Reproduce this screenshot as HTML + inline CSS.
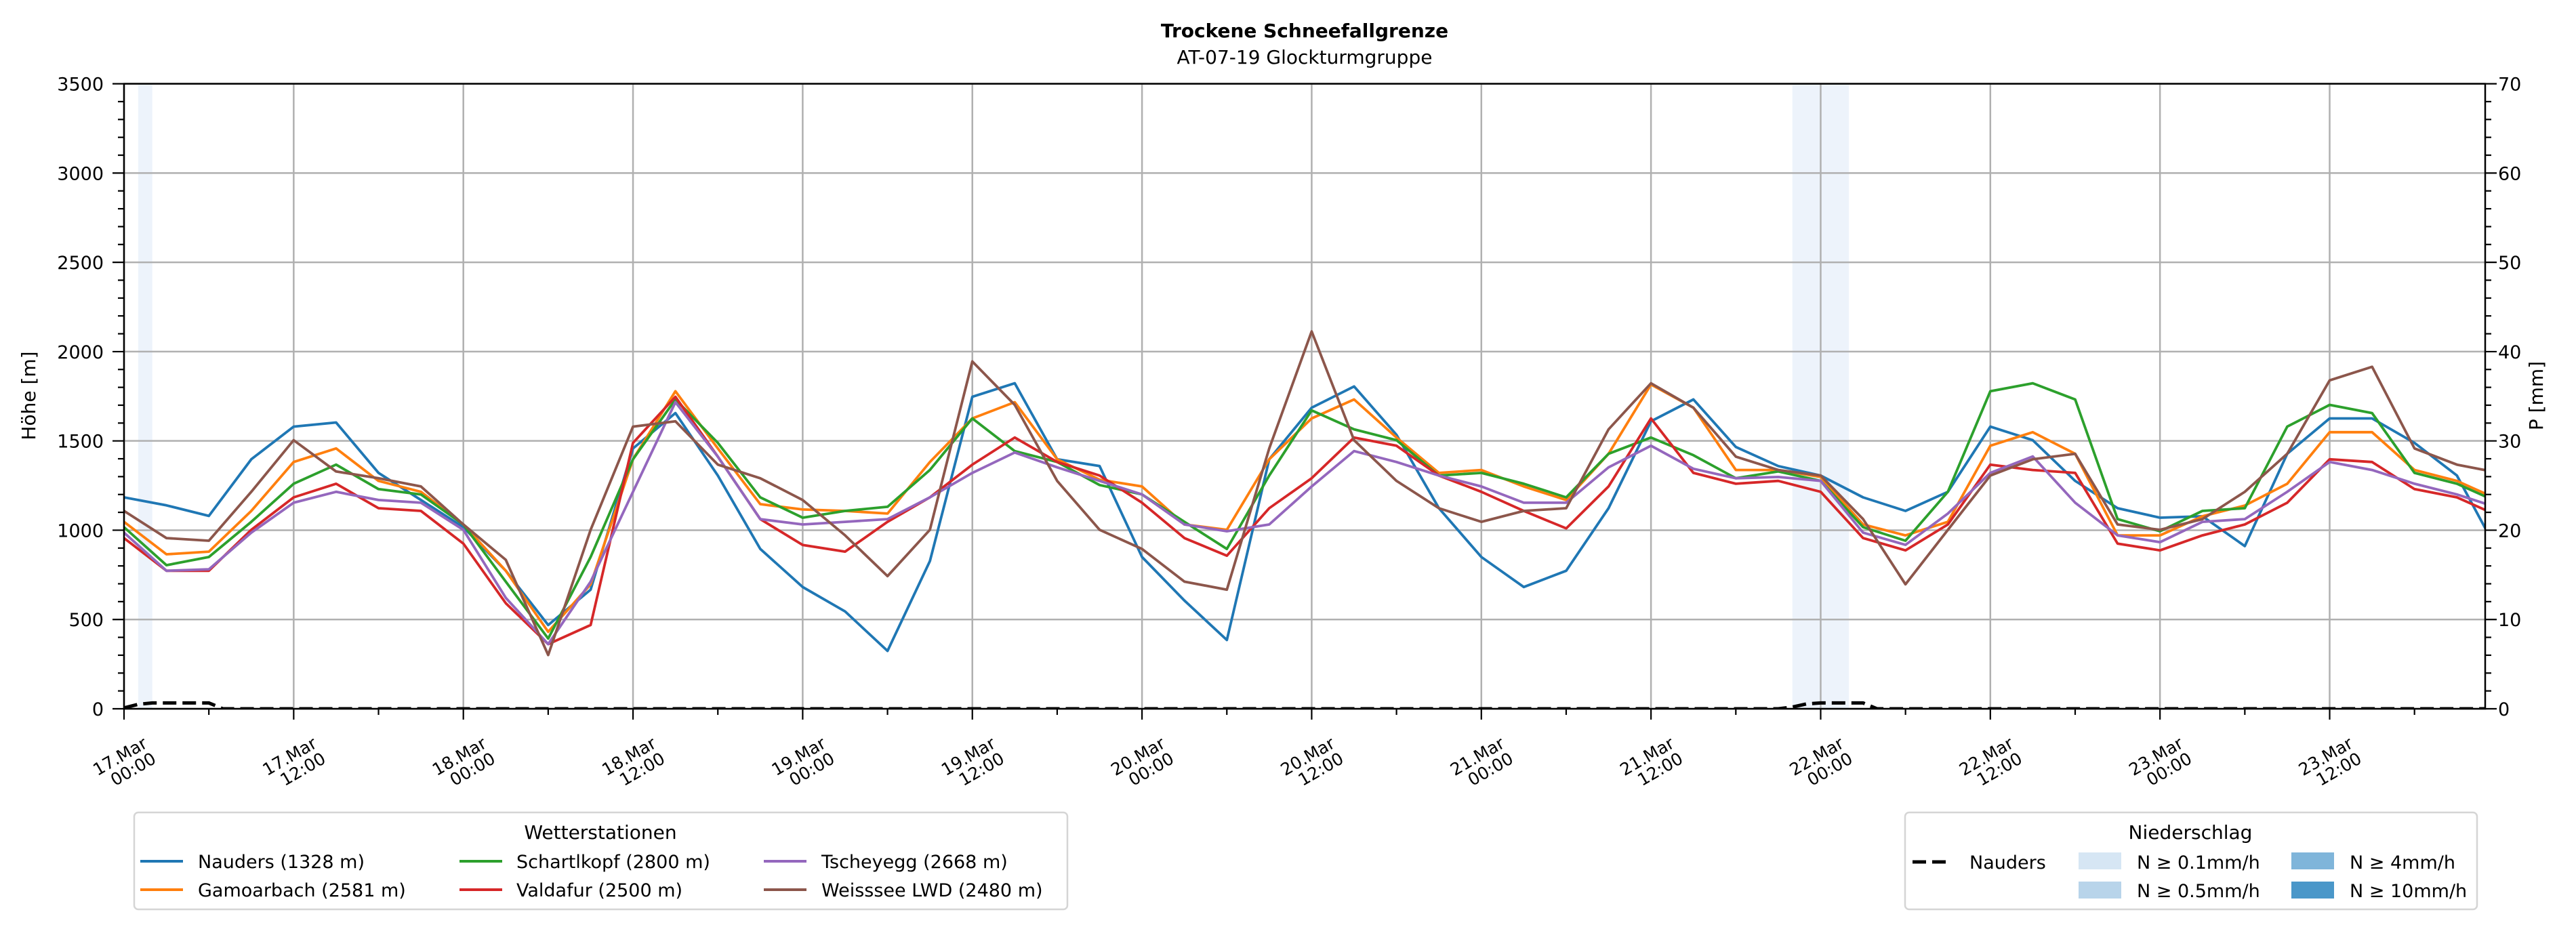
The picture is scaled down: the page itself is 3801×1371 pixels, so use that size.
<!DOCTYPE html>
<html><head><meta charset="utf-8"><style>
html,body{margin:0;padding:0;background:#fff;}
svg{display:block;font-family:"DejaVu Sans","Liberation Sans",sans-serif;}
</style></head><body>
<svg id="chart" width="3801" height="1371" viewBox="0 0 3801 1371" xmlns="http://www.w3.org/2000/svg">
<text x="1925" y="55" text-anchor="middle" font-size="28" font-weight="bold">Trockene Schneefallgrenze</text>
<text x="1925" y="94" text-anchor="middle" font-size="28">AT-07-19 Glockturmgruppe</text>
<text transform="translate(52,584) rotate(-90)" text-anchor="middle" font-size="28">Höhe [m]</text>
<text transform="translate(3752,584) rotate(-90)" text-anchor="middle" font-size="28">P [mm]</text>
<defs><clipPath id="plotclip"><rect x="183" y="123" width="3484" height="924"/></clipPath></defs>
<g id="bands" clip-path="url(#plotclip)"></g>
<g id="grid"></g>
<g id="series" clip-path="url(#plotclip)"></g>
<g id="axes"></g>

<g>
<rect x="198" y="1199" width="1377" height="143" rx="6" fill="#fff" stroke="#d5d5d5" stroke-width="2.5"/>
<text x="886" y="1238" text-anchor="middle" font-size="28">Wetterstationen</text>
<g font-size="27">
<line x1="207" y1="1271" x2="270" y2="1271" stroke="#1f77b4" stroke-width="4"/>
<text x="292" y="1281">Nauders (1328 m)</text>
<line x1="207" y1="1313" x2="270" y2="1313" stroke="#ff7f0e" stroke-width="4"/>
<text x="292" y="1323">Gamoarbach (2581 m)</text>
<line x1="678" y1="1271" x2="741" y2="1271" stroke="#2ca02c" stroke-width="4"/>
<text x="762" y="1281">Schartlkopf (2800 m)</text>
<line x1="678" y1="1313" x2="741" y2="1313" stroke="#d62728" stroke-width="4"/>
<text x="762" y="1323">Valdafur (2500 m)</text>
<line x1="1127" y1="1271" x2="1190" y2="1271" stroke="#9467bd" stroke-width="4"/>
<text x="1212" y="1281">Tscheyegg (2668 m)</text>
<line x1="1127" y1="1313" x2="1190" y2="1313" stroke="#8c564b" stroke-width="4"/>
<text x="1212" y="1323">Weisssee LWD (2480 m)</text>
</g></g>

<g>
<rect x="2811" y="1199" width="844" height="143" rx="6" fill="#fff" stroke="#d5d5d5" stroke-width="2.5"/>
<text x="3232" y="1238" text-anchor="middle" font-size="28">Niederschlag</text>
<g font-size="27">
<line x1="2822" y1="1272" x2="2880" y2="1272" stroke="#000" stroke-width="5" stroke-dasharray="20,9"/>
<text x="2906" y="1282">Nauders</text>
<rect x="3067" y="1258" width="63" height="25" fill="#d6e6f4"/>
<text x="3153" y="1282">N ≥ 0.1mm/h</text>
<rect x="3067" y="1301" width="63" height="25" fill="#b8d4ea"/>
<text x="3153" y="1324">N ≥ 0.5mm/h</text>
<rect x="3381" y="1258" width="63" height="25" fill="#7fb5da"/>
<text x="3467" y="1282">N ≥ 4mm/h</text>
<rect x="3381" y="1301" width="63" height="25" fill="#4a97c9"/>
<text x="3467" y="1324">N ≥ 10mm/h</text>
</g></g>
</svg>
<script>
const xTickLabels = ["17.Mar|00:00","17.Mar|12:00","18.Mar|00:00","18.Mar|12:00","19.Mar|00:00","19.Mar|12:00","20.Mar|00:00","20.Mar|12:00","21.Mar|00:00","21.Mar|12:00","22.Mar|00:00","22.Mar|12:00","23.Mar|00:00","23.Mar|12:00"];
const yTicks = [0,500,1000,1500,2000,2500,3000,3500];
const y2Ticks = [0,10,20,30,40,50,60,70];
const stepHours = 3;
const nauders = [1184,1139,1080,1397,1580,1603,1321,1169,1017,773,469,667,1458,1656,1306,895,682,545,324,827,1747,1823,1397,1359,850,606,385,1397,1686,1805,1534,1123,850,682,773,1123,1610,1732,1466,1359,1306,1184,1108,1215,1580,1504,1276,1123,1070,1078,911,1428,1626,1626,1489,1306,864];
const gamoarbach = [1047,865,880,1108,1382,1458,1276,1215,1032,773,431,697,1397,1778,1458,1146,1116,1108,1093,1382,1626,1717,1397,1283,1245,1032,1002,1397,1626,1732,1519,1321,1337,1245,1169,1428,1816,1686,1337,1337,1298,1032,971,1047,1473,1549,1428,971,971,1078,1138,1260,1549,1549,1337,1276,1169];
const schartlkopf = [1017,804,850,1047,1260,1367,1230,1200,1032,712,393,850,1397,1732,1489,1184,1070,1108,1131,1337,1626,1443,1382,1253,1200,1047,895,1306,1671,1565,1504,1306,1321,1260,1184,1428,1519,1420,1291,1329,1276,1017,941,1215,1778,1823,1732,1062,994,1108,1123,1580,1702,1656,1321,1260,1154];
const valdafur = [956,773,773,1002,1184,1260,1123,1108,925,591,362,469,1489,1747,1412,1062,917,880,1047,1184,1367,1519,1382,1306,1154,956,857,1123,1291,1519,1473,1306,1215,1108,1010,1245,1626,1321,1260,1276,1215,956,887,1032,1367,1337,1321,925,887,971,1032,1154,1397,1382,1230,1184,1078];
const tscheyegg = [986,773,781,986,1154,1215,1169,1154,1002,621,362,712,1215,1717,1412,1062,1032,1047,1062,1184,1321,1435,1352,1276,1200,1032,994,1032,1245,1443,1382,1306,1245,1154,1154,1352,1473,1344,1291,1298,1276,986,918,1093,1321,1413,1154,971,933,1047,1062,1215,1382,1337,1260,1200,1123];
const weisssee = [1108,956,941,1215,1504,1329,1291,1245,1032,834,301,1002,1580,1610,1367,1291,1169,971,743,1002,1945,1702,1276,1002,895,712,667,1458,2113,1504,1276,1123,1047,1108,1123,1565,1823,1686,1412,1337,1306,1062,697,1002,1306,1397,1428,1032,1002,1062,1215,1428,1839,1915,1458,1367,1321];
const precipNauders = [0.1,0.5,0.65,0.65,0.65,0.65,0.65,0,0,0,0,0,0,0,0,0,0,0,0,0,0,0,0,0,0,0,0,0,0,0,0,0,0,0,0,0,0,0,0,0,0,0,0,0,0,0,0,0,0,0,0,0,0,0,0,0,0,0,0,0,0,0,0,0,0,0,0,0,0,0,0,0,0,0,0,0,0,0,0,0,0,0,0,0,0,0,0,0,0,0,0,0,0,0,0,0,0,0,0,0,0,0,0,0,0,0,0,0,0,0,0,0,0,0,0,0,0,0,0.2,0.55,0.65,0.65,0.65,0.65,0,0,0,0,0,0,0,0,0,0,0,0,0,0,0,0,0,0,0,0,0,0,0,0,0,0,0,0,0,0,0,0,0,0,0,0,0,0,0,0,0,0,0,0,0,0,0,0,0,0,0,0,0,0];
const precipBandStart = [1,118];
const precipBandEnd = [2,122];

const NS="http://www.w3.org/2000/svg";
const L=183,R=3667,T=123.6,B=1046,HMAX=167;
function xs(h){return L+h*(R-L)/HMAX;}
function ys(v){return B-v*(B-T)/3500;}
function y2s(v){return B-v*(B-T)/70;}
function mk(tag,attrs,parent){const e=document.createElementNS(NS,tag);for(const k in attrs)e.setAttribute(k,attrs[k]);parent.appendChild(e);return e;}
const bands=document.getElementById('bands'),grid=document.getElementById('grid'),series=document.getElementById('series'),axes=document.getElementById('axes');

precipBandStart.forEach((s,i)=>{
  const r=mk('rect',{x:xs(s),y:T,width:xs(precipBandEnd[i])-xs(s),height:B-T,fill:'#edf3fb'},bands);
  
  
});
yTicks.forEach(v=>{
  const g=mk('line',{x1:L,x2:R,y1:ys(v),y2:ys(v),stroke:'#b0b0b0','stroke-width':2.5},grid);
  
  
});
xTickLabels.forEach((lab,i)=>{
  const x=xs(i*12);
  const g=mk('line',{x1:x,x2:x,y1:T,y2:B,stroke:'#b0b0b0','stroke-width':2.5},grid);
  
  
});

const seriesList=[[nauders,'#1f77b4','nauders'],[gamoarbach,'#ff7f0e','gamoarbach'],[schartlkopf,'#2ca02c','schartlkopf'],[valdafur,'#d62728','valdafur'],[tscheyegg,'#9467bd','tscheyegg'],[weisssee,'#8c564b','weisssee']];
seriesList.forEach(([arr,col,nm])=>{
  const pts=arr.map((v,i)=>xs(i*stepHours).toFixed(1)+','+ys(v).toFixed(1)).join(' ');
  const p=mk('polyline',{points:pts,fill:'none',stroke:col,'stroke-width':3.8,'stroke-linejoin':'round'},series);
  
  
});
const ppts=precipNauders.map((v,i)=>xs(i).toFixed(1)+','+y2s(v).toFixed(1)).join(' ');
const pl=mk('polyline',{points:ppts,fill:'none',stroke:'#000','stroke-width':5,'stroke-dasharray':'20,9'},series);



const fr=mk('rect',{x:L,y:T,width:R-L,height:B-T,fill:'none',stroke:'#000','stroke-width':2.5},axes);


for(let v=0;v<=3500;v+=100){
  const major=v%500===0;
  const t=mk('line',{x1:L-(major?17:9),x2:L,y1:ys(v),y2:ys(v),stroke:'#000','stroke-width':2.2},axes);
  
  
}
yTicks.forEach(v=>{
  const t=mk('text',{x:153,y:ys(v)+10,'text-anchor':'end','font-size':27},axes);
  t.textContent=v;
  
  
});
for(let v=0;v<=70;v+=2){
  const major=v%10===0;
  const t=mk('line',{x1:R,x2:R+(major?17:9),y1:y2s(v),y2:y2s(v),stroke:'#000','stroke-width':2.2},axes);
  
  
}
y2Ticks.forEach(v=>{
  const t=mk('text',{x:3686,y:y2s(v)+10,'font-size':27},axes);
  t.textContent=v;
  
  
});
for(let h=0;h<=HMAX;h+=6){
  const major=h%12===0;
  const t=mk('line',{x1:xs(h),x2:xs(h),y1:B,y2:B+(major?16:9),stroke:'#000','stroke-width':2.2},axes);
  
  
}
xTickLabels.forEach((lab,i)=>{
  const x=xs(i*12);
  const parts=lab.split('|');
  const g=mk('text',{transform:'translate('+(x+36)+',1102) rotate(-30)','text-anchor':'end','font-size':25},axes);
  
  
  const a=mk('tspan',{x:0,y:0},g);a.textContent=parts[0];
  const b=mk('tspan',{x:0,y:26},g);b.textContent=parts[1];
});
</script>
</body></html>
